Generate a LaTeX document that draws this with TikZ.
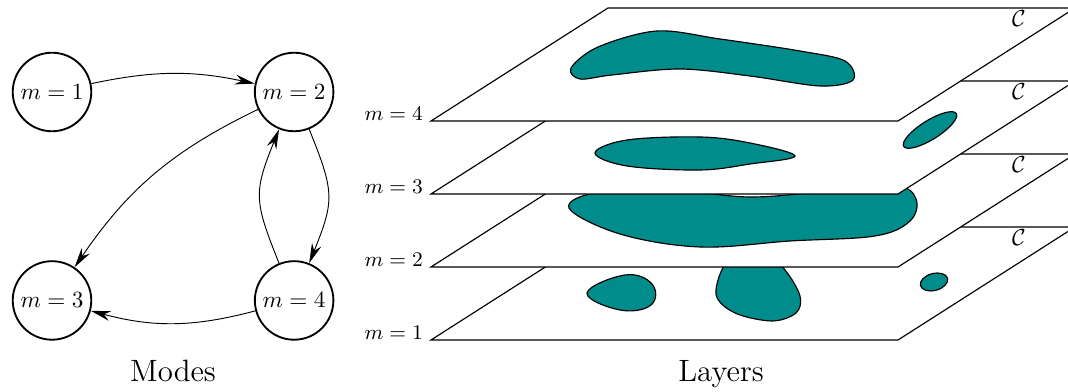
\documentclass[tikz,border=0pt]{standalone}
\usepackage{amsmath}
\usetikzlibrary{arrows.meta, positioning}
\definecolor{blobteal}{RGB}{0,140,138}

\begin{document}
\begin{tikzpicture}[
    x=0.1515mm, y=0.1515mm,
    node distance=19.4mm and 24.5mm,
    mode/.style={circle, draw, thick, minimum size=11.9mm, inner sep=0pt},
    arrow/.style={-{Stealth[length=3mm, width=1.5mm]}},
    plane/.style={draw, fill=white, line width=0.5pt},
    blob/.style={draw, fill=blobteal, line width=0.5pt},
    layerlabel/.style={anchor=base east, font=\small},
    caption/.style={anchor=base, font=\fontsize{13.3}{16}\selectfont}
]
\useasboundingbox (0,0) rectangle (1068,392);
\clip (0,0) rectangle (1068,392);

% modes
\node[mode] (m1) at (52,300) {$m=1$};
\node[mode, right=of m1] (m2) {$m=2$};
\node[mode, below=of m1] (m3) {$m=3$};
\node[mode, right=of m3] (m4) {$m=4$};

\draw[arrow] (m1) to[bend left=12] (m2);
\draw[arrow] (m2) to[bend right=15] (m3);
\draw[arrow] (m2) to[bend left=22, looseness=1.3] (m4);
\draw[arrow] (m4) to[bend left=22, looseness=1.3] (m2);
\draw[arrow] (m4) to[bend left=15] (m3);

\node[caption] (modes) at (173,10) {Modes};

% layers, bottom to top
\draw[plane] (431,52) -- ++(467,0) -- ++(177,113) -- ++(-467,0) -- cycle;
\node[layerlabel] (l1) at (431,52) {$m=1$};
\node (c1) at (1019,154) {$\mathcal{C}$};
\draw[blob] plot[smooth cycle, tension=0.7] coordinates {(587,99) (625,117) (652,108) (651,87) (620,82)};
\draw[blob] plot[smooth cycle, tension=0.55] coordinates {(716,98) (735,79) (772,71) (796,79) (800,96) (785,122) (760,145) (728,132)};
\draw[blob, rotate around={15:(934,110)}] (934,110) ellipse [x radius=14, y radius=8.5];

\draw[plane] (431,125) -- ++(467,0) -- ++(177,113) -- ++(-467,0) -- cycle;
\node[layerlabel] (l2) at (431,125) {$m=2$};
\node (c2) at (1019,227) {$\mathcal{C}$};
\draw[blob] plot[smooth cycle, tension=0.6] coordinates {(569,184) (600,200) (680,201) (750,195) (820,200) (895,206) (916,193) (910,171) (875,156) (790,151) (700,145) (620,158)};

\draw[plane] (431,198) -- ++(467,0) -- ++(177,113) -- ++(-467,0) -- cycle;
\node[layerlabel] (l3) at (431,198) {$m=3$};
\node (c3) at (1019,300) {$\mathcal{C}$};
\draw[blob] plot[smooth cycle, tension=0.6] coordinates {(595,239) (627,252) (700,255) (750,249) (795,236) (750,228) (700,222) (627,226)};
\draw[blob, rotate around={32:(930,262)}] (930,262) ellipse [x radius=31, y radius=9.5];

\draw[plane] (431,271) -- ++(467,0) -- ++(177,113) -- ++(-467,0) -- cycle;
\node[layerlabel] (l4) at (431,271) {$m=4$};
\node (c4) at (1019,373) {$\mathcal{C}$};
\draw[blob] plot[smooth cycle, tension=0.55] coordinates {(571,324) (598,345) (657,361) (720,353) (800,341) (845,331) (853,312) (820,306) (750,316) (680,323) (612,317) (580,313)};

\node[caption] (layers) at (721,10) {Layers};

\end{tikzpicture}
\end{document}
